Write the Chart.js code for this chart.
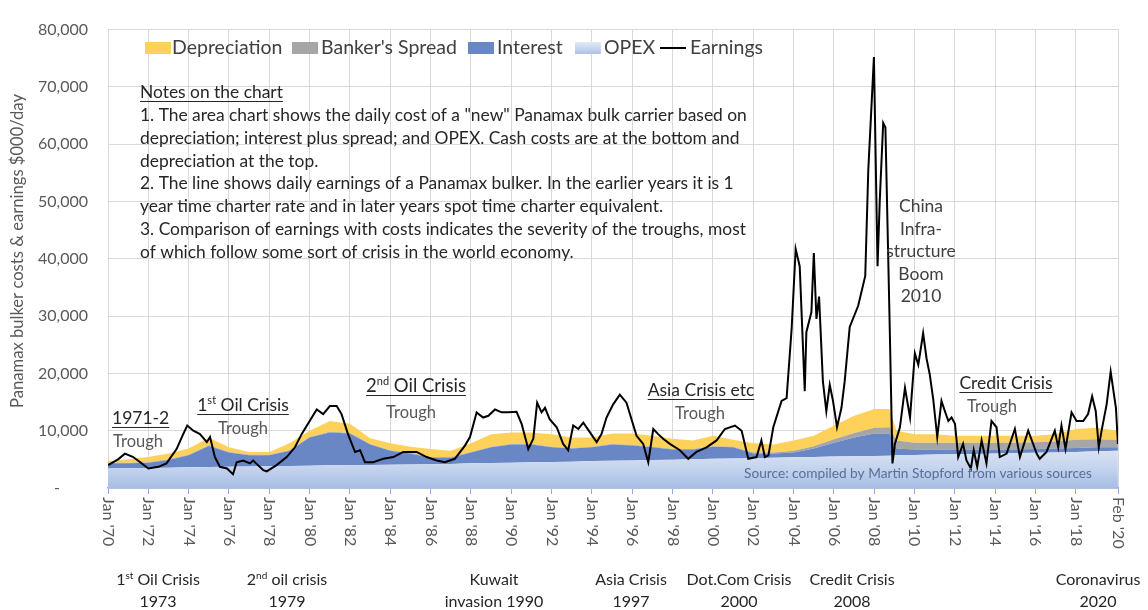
<!DOCTYPE html>
<html>
<head>
<meta charset="utf-8">
<title>Panamax bulker costs and earnings</title>
<script src="https://cdn.jsdelivr.net/npm/chart.js"></script>
<style>
  body { margin: 0; background: #fff; }
  #wrap { width: 1148px; height: 610px; }
</style>
</head>
<body>
<div id="wrap"><canvas id="chart" width="1148" height="610"></canvas></div>
<script>
  // cost build-up, $/day (stacked from the bottom)
  const costYears = [1970, 1971, 1972, 1973, 1974, 1975, 1976, 1977, 1978, 1979,
    1980, 1981, 1982, 1983, 1984, 1985, 1986, 1987, 1988, 1989,
    1990, 1991, 1992, 1993, 1994, 1995, 1996, 1997, 1998, 1999,
    2000, 2001, 2002, 2003, 2004, 2005, 2006, 2007, 2008, 2008.75, 2009.1,
    2010, 2011, 2012, 2013, 2014, 2015, 2016, 2017, 2018, 2019, 2020.08];
  const opex = [3400, 3450, 3500, 3550, 3600, 3650, 3700, 3750, 3800, 3850,
    3900, 3950, 4000, 4000, 4050, 4100, 4150, 4200, 4300, 4350,
    4400, 4500, 4550, 4600, 4700, 4750, 4800, 4900, 4950, 5000,
    5100, 5150, 5200, 5300, 5350, 5400, 5500, 5550, 5600, 5650, 5700,
    5750, 5850, 5900, 5950, 6000, 6100, 6150, 6200, 6300, 6400, 6500];
  const interest = [900, 850, 900, 1350, 2100, 3700, 2500, 1950, 1900, 2650,
    4900, 5750, 5500, 3600, 2450, 1900, 1150, 1100, 1900, 2750,
    3200, 3100, 2550, 2300, 2400, 2850, 2600, 2200, 1750, 1700,
    2100, 1950, 800, 700, 850, 1500, 2400, 3250, 3900, 3850, 1200,
    950, 850, 800, 750, 700, 600, 650, 700, 700, 700, 600];
  const spread = [100, 100, 100, 100, 100, 100, 100, 100, 100, 100,
    100, 100, 100, 100, 100, 100, 100, 100, 100, 100,
    100, 100, 100, 100, 100, 100, 100, 100, 100, 100,
    100, 100, 200, 200, 300, 400, 600, 800, 1000, 1100, 1400,
    1200, 1200, 1200, 1200, 1200, 1200, 1200, 1200, 1400, 1400, 1300];
  const depreciation = [300, 600, 900, 1000, 1100, 1300, 800, 500, 500, 1200,
    1100, 1900, 1600, 1000, 1200, 1100, 1400, 1100, 1500, 2200,
    2000, 2000, 2200, 1800, 1600, 1800, 2000, 1900, 1800, 1500,
    1800, 1200, 1600, 1400, 1800, 1800, 2400, 3000, 3300, 3200, 1700,
    1500, 1500, 1200, 1200, 1200, 1200, 1100, 1300, 1900, 2000, 1600];

  // Panamax earnings, $/day
  const earnYears = [1970.0, 1970.2, 1970.5, 1970.84, 1971.25, 1971.6, 1972.0, 1972.5, 1972.9, 1973.4,
    1973.73, 1973.93, 1974.23, 1974.56, 1974.9, 1975.06, 1975.3, 1975.55, 1975.9, 1976.2,
    1976.38, 1976.7, 1977.04, 1977.2, 1977.7, 1977.87, 1978.36, 1978.86, 1979.27, 1979.6,
    1980.0, 1980.35, 1980.67, 1981.0, 1981.34, 1981.58, 1981.9, 1982.25, 1982.5, 1982.74,
    1983.15, 1983.65, 1984.15, 1984.64, 1985.3, 1985.8, 1986.3, 1986.7, 1987.2, 1987.7,
    1987.95, 1988.28, 1988.6, 1988.86, 1989.19, 1989.52, 1989.85, 1990.26, 1990.51, 1990.84,
    1991.09, 1991.28, 1991.5, 1991.67, 1991.9, 1992.25, 1992.57, 1992.82, 1993.07, 1993.32,
    1993.57, 1993.9, 1994.23, 1994.47, 1994.72, 1995.05, 1995.38, 1995.71, 1995.88, 1996.21,
    1996.54, 1996.79, 1997.04, 1997.28, 1997.53, 1997.86, 1998.36, 1998.77, 1999.18, 1999.68,
    2000.18, 2000.59, 2001.09, 2001.42, 2001.75, 2002.16, 2002.4, 2002.57, 2002.75, 2002.99,
    2003.4, 2003.65, 2003.9, 2004.1, 2004.3, 2004.55, 2004.63, 2004.88, 2005.0, 2005.13,
    2005.26, 2005.45, 2005.62, 2005.79, 2005.95, 2006.15, 2006.37, 2006.53, 2006.78, 2007.2,
    2007.55, 2007.7, 2007.98, 2008.16, 2008.27, 2008.44, 2008.55, 2008.77, 2008.9, 2009.02,
    2009.27, 2009.52, 2009.77, 2010.01, 2010.18, 2010.42, 2010.59, 2010.75, 2010.92, 2011.12,
    2011.33, 2011.5, 2011.67, 2011.83, 2012.0, 2012.16, 2012.4, 2012.57, 2012.79, 2012.93,
    2013.1, 2013.32, 2013.56, 2013.81, 2014.06, 2014.22, 2014.56, 2014.97, 2015.22, 2015.63,
    2016.05, 2016.2, 2016.54, 2016.95, 2017.12, 2017.28, 2017.48, 2017.78, 2018.03, 2018.36,
    2018.6, 2018.8, 2018.98, 2019.13, 2019.27, 2019.52, 2019.72, 2019.98, 2020.08];
  const earnings = [4000, 4400, 5000, 6000, 5400, 4500, 3400, 3700, 4300, 6800,
    9400, 10900, 10000, 9400, 8000, 8900, 5400, 3700, 3400, 2400,
    4500, 4800, 4300, 4800, 3100, 2900, 4000, 5400, 7100, 9400,
    11700, 13700, 12900, 14300, 14300, 12900, 9400, 6300, 6600, 4500,
    4500, 5100, 5400, 6300, 6300, 5400, 4800, 4500, 5100, 7400,
    8900, 13200, 12300, 12600, 13700, 13200, 13200, 13300, 11200, 6800,
    8600, 14900, 13200, 14000, 12000, 10600, 7700, 6600, 10900, 10300,
    11400, 9700, 8000, 9400, 12300, 14600, 16300, 14900, 12900, 9100,
    7700, 4500, 10300, 9400, 8600, 7700, 6600, 5100, 6300, 7100,
    8300, 10300, 10900, 10000, 5100, 5400, 8300, 5400, 5700, 10600,
    15200, 15700, 27800, 41700, 38700, 16900, 27200, 30700, 41000, 29500,
    33400, 18600, 13400, 18000, 15200, 10600, 14000, 18600, 28100, 31800,
    37000, 55400, 75200, 38700, 50200, 63700, 62900, 27000, 4300, 7700,
    10600, 17500, 12300, 23500, 21500, 27000, 22600, 19800, 15500, 8900,
    15200, 13400, 11700, 12300, 11200, 5400, 7700, 4800, 3400, 6600,
    3700, 8300, 4300, 11700, 10600, 5400, 6000, 10300, 5400, 10000,
    6000, 5100, 6300, 10000, 7100, 10900, 6800, 13200, 11700, 11700,
    12900, 16000, 13400, 7100, 10000, 14600, 20300, 14000, 7700];

  const tickYears = [1970, 1972, 1974, 1976, 1978, 1980, 1982, 1984, 1986, 1988, 1990, 1992, 1994,
    1996, 1998, 2000, 2002, 2004, 2006, 2008, 2010, 2012, 2014, 2016, 2018, 2020.0833];
  const tickLabels = ["Jan '70", "Jan '72", "Jan '74", "Jan '76", "Jan '78", "Jan '80", "Jan '82",
    "Jan '84", "Jan '86", "Jan '88", "Jan '90", "Jan '92", "Jan '94", "Jan '96", "Jan '98",
    "Jan '00", "Jan '02", "Jan '04", "Jan '06", "Jan '08", "Jan '10", "Jan '12", "Jan '14",
    "Jan '16", "Jan '18", "Feb '20"];

  const noteLines = [
    '1. The area chart shows the daily cost of a "new" Panamax bulk carrier based on',
    'depreciation; interest plus spread; and OPEX. Cash costs are at the bottom and',
    'depreciation at the top.',
    '2. The line shows daily earnings of a Panamax bulker. In the earlier years it is 1',
    'year time charter rate and in later years spot time charter equivalent.',
    '3. Comparison of earnings with costs indicates the severity of the troughs, most',
    'of which follow some sort of crisis in the world economy.'
  ];

  const FONT = 'Lato, "Open Sans", sans-serif';

  function pts(xs, ys) {
    return xs.map((x, i) => ({ x: x, y: ys[i] }));
  }

  function opexFill(context) {
    const chart = context.chart;
    const area = chart.chartArea;
    if (!area) return '#c6d5ee';
    const top = chart.scales.y.getPixelForValue(7000);
    const g = chart.ctx.createLinearGradient(0, top, 0, area.bottom);
    g.addColorStop(0, '#dbe4f4');
    g.addColorStop(0.5, '#c5d4ee');
    g.addColorStop(1, '#a6bde5');
    return g;
  }

  // text that can carry superscripts: [['1'], ['st', true], [' Oil Crisis']]
  function richText(ctx, parts, x, y, size, align, color, underline) {
    const widths = parts.map(p => {
      ctx.font = (p[1] ? Math.round(size * 0.62) : size) + 'px ' + FONT;
      return ctx.measureText(p[0]).width;
    });
    const total = widths.reduce((a, b) => a + b, 0);
    let cx = align === 'center' ? x - total / 2 : x;
    const start = cx;
    ctx.fillStyle = color;
    ctx.textAlign = 'left';
    ctx.textBaseline = 'alphabetic';
    parts.forEach((p, i) => {
      ctx.font = (p[1] ? Math.round(size * 0.62) : size) + 'px ' + FONT;
      ctx.fillText(p[0], cx, p[1] ? y - size * 0.38 : y);
      cx += widths[i];
    });
    if (underline) {
      ctx.strokeStyle = color;
      ctx.lineWidth = 1;
      ctx.beginPath();
      ctx.moveTo(start, y + 3.5);
      ctx.lineTo(start + total, y + 3.5);
      ctx.stroke();
    }
  }

  const annotations = {
    id: 'annotations',
    afterDraw(chart) {
      const ctx = chart.ctx;
      const xs = chart.scales.x;
      ctx.save();

      // rotated x tick labels (read top to bottom)
      ctx.font = '16px ' + FONT;
      ctx.fillStyle = '#595959';
      tickYears.forEach((v, i) => {
        const px = xs.getPixelForValue(v);
        ctx.save();
        ctx.translate(px, 497);
        ctx.rotate(Math.PI / 2);
        ctx.textAlign = 'left';
        ctx.textBaseline = 'middle';
        ctx.fillText(tickLabels[i], 0, 0);
        ctx.restore();
      });

      // y axis title
      ctx.save();
      ctx.translate(18, 251);
      ctx.rotate(-Math.PI / 2);
      ctx.font = '16.6px ' + FONT;
      ctx.fillStyle = '#595959';
      ctx.textAlign = 'center';
      ctx.textBaseline = 'middle';
      ctx.fillText('Panamax bulker costs & earnings $000/day', 0, 0);
      ctx.restore();

      // legend
      const ly = 48;
      const legend = [
        ['box', '#fdd15a', 145, 'Depreciation', 172],
        ['box', '#a6a6a6', 292, "Banker's Spread", 321],
        ['box', '#6a87c5', 468, 'Interest', 497],
        ['grad', null, 575, 'OPEX', 604],
        ['line', '#000', 660, 'Earnings', 690]
      ];
      legend.forEach(it => {
        if (it[0] === 'box') {
          ctx.fillStyle = it[1];
          ctx.fillRect(it[2], ly - 6, 26, 12);
        } else if (it[0] === 'grad') {
          const g = ctx.createLinearGradient(0, ly - 6, 0, ly + 6);
          g.addColorStop(0, '#e3eaf6');
          g.addColorStop(1, '#aec3e7');
          ctx.fillStyle = g;
          ctx.fillRect(it[2], ly - 6, 26, 12);
        } else {
          ctx.strokeStyle = it[1];
          ctx.lineWidth = 2;
          ctx.beginPath();
          ctx.moveTo(it[2], ly);
          ctx.lineTo(it[2] + 26, ly);
          ctx.stroke();
        }
        ctx.font = '19.5px ' + FONT;
        ctx.fillStyle = '#404040';
        ctx.textAlign = 'left';
        ctx.textBaseline = 'middle';
        ctx.fillText(it[3], it[4], ly);
      });

      // notes
      richText(ctx, [['Notes on the chart']], 140, 98, 17.4, 'left', '#262626', true);
      noteLines.forEach((t, i) => {
        richText(ctx, [[t]], 140, 121 + i * 22.8, 17.4, 'left', '#262626', false);
      });

      // trough labels
      richText(ctx, [['1971-2']], 112, 424, 17.5, 'left', '#262626', true);
      richText(ctx, [['Trough']], 138, 447, 16.5, 'center', '#595959', false);
      richText(ctx, [['1'], ['st', true], [' Oil Crisis']], 243, 411, 17.5, 'center', '#262626', true);
      richText(ctx, [['Trough']], 243, 434, 16.5, 'center', '#595959', false);
      richText(ctx, [['2'], ['nd', true], [' Oil Crisis']], 416, 392, 18.5, 'center', '#262626', true);
      richText(ctx, [['Trough']], 411, 418, 16.5, 'center', '#595959', false);
      richText(ctx, [['Asia Crisis etc']], 701, 396, 17.5, 'center', '#262626', true);
      richText(ctx, [['Trough']], 700, 419, 16.5, 'center', '#595959', false);
      richText(ctx, [['Credit Crisis']], 1006, 389, 17.5, 'center', '#262626', true);
      richText(ctx, [['Trough']], 992, 412, 16.5, 'center', '#595959', false);

      ['China', 'Infra-', 'structure', 'Boom', '2010'].forEach((t, i) => {
        richText(ctx, [[t]], 921, 212 + i * 22.6, 17.5, 'center', '#404040', false);
      });

      richText(ctx, [['Source: compiled by Martin Stopford from various sources']], 918, 478, 13.7, 'center', '#5a6e98', false);

      // crisis years under the axis
      const crises = [
        [[['1'], ['st', true], [' Oil Crisis']], '1973', 158],
        [[['2'], ['nd', true], [' oil crisis']], '1979', 287],
        [[['Kuwait']], 'invasion 1990', 494],
        [[['Asia Crisis']], '1997', 631],
        [[['Dot.Com Crisis']], '2000', 739],
        [[['Credit Crisis']], '2008', 852],
        [[['Coronavirus']], '2020', 1098]
      ];
      crises.forEach(c => {
        richText(ctx, c[0], c[2], 585, 16, 'center', '#262626', false);
        richText(ctx, [[c[1]]], c[2], 607, 16, 'center', '#262626', false);
      });

      ctx.restore();
    }
  };

  const area = (label, data, color, fill) => ({
    label: label,
    data: data,
    stack: 'cost',
    fill: fill,
    backgroundColor: color,
    borderColor: 'rgba(0,0,0,0)',
    borderWidth: 0,
    pointRadius: 0,
    tension: 0,
    order: 1
  });

  new Chart(document.getElementById('chart').getContext('2d'), {
    type: 'line',
    data: {
      datasets: [
        area('OPEX', pts(costYears, opex), opexFill, 'origin'),
        area('Interest', pts(costYears, interest), '#6a87c5', '-1'),
        area("Banker's Spread", pts(costYears, spread), '#a6a6a6', '-1'),
        area('Depreciation', pts(costYears, depreciation), '#fdd15a', '-1'),
        {
          label: 'Earnings',
          data: pts(earnYears, earnings),
          stack: 'earn',
          fill: false,
          borderColor: '#000',
          borderWidth: 2,
          pointRadius: 0,
          tension: 0,
          order: 0
        }
      ]
    },
    options: {
      responsive: false,
      animation: false,
      layout: { padding: { top: 25, right: 30, left: 0, bottom: 0 } },
      plugins: { legend: { display: false }, tooltip: { enabled: false } },
      scales: {
        x: {
          type: 'linear',
          min: 1970,
          max: 2020.0833,
          afterBuildTicks: s => { s.ticks = tickYears.map(v => ({ value: v })); },
          afterFit: s => { s.height = 122; },
          ticks: { display: false },
          grid: { color: '#d9d9d9', tickColor: '#8eaadb', tickLength: 6 },
          border: { color: '#8eaadb', width: 1.5 }
        },
        y: {
          stacked: true,
          min: 0,
          max: 80000,
          afterFit: s => { s.width = 108; },
          ticks: {
            stepSize: 10000,
            padding: 20,
            color: '#595959',
            font: { family: FONT, size: 16 },
            callback: v => v === 0 ? '-\u2003\u2003 ' : v.toLocaleString('en-US')
          },
          grid: { color: '#d9d9d9', drawTicks: false },
          border: { display: false }
        }
      }
    },
    plugins: [annotations]
  });
</script>
</body>
</html>
